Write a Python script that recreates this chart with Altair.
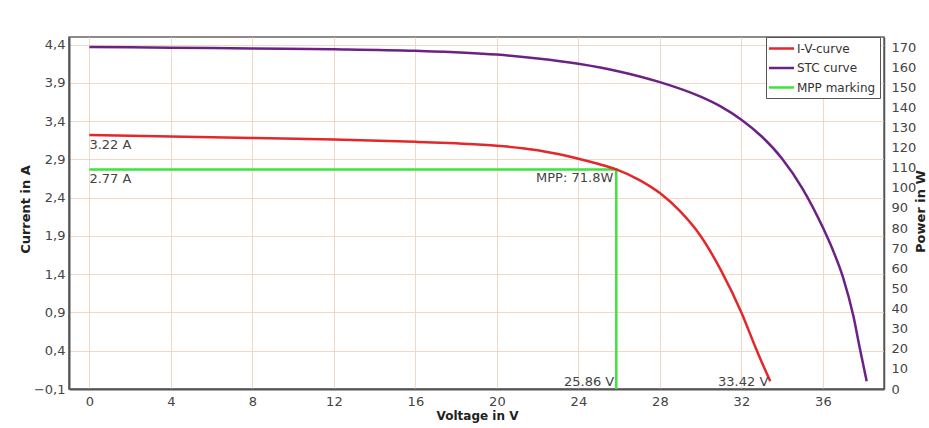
import altair as alt
import pandas as pd

# ---- data ----
iv_voltage = [0, 4, 8, 12, 16, 18, 20, 22, 23, 24, 25, 25.86, 27, 28, 29, 30, 31, 32, 32.7, 33.1, 33.42]
iv_current = [3.22, 3.20, 3.18, 3.16, 3.13, 3.11, 3.08, 3.02, 2.97, 2.91, 2.84, 2.77, 2.63, 2.46, 2.22, 1.90, 1.45, 0.90, 0.44, 0.19, 0.0]

stc_voltage = [0, 4, 8, 12, 16, 20, 22, 24, 26, 28, 30, 31, 32, 33, 34, 35, 36, 36.5, 37, 37.5, 37.8, 38.15]
stc_current = [4.37, 4.36, 4.35, 4.34, 4.32, 4.27, 4.22, 4.15, 4.05, 3.91, 3.72, 3.59, 3.42, 3.20, 2.91, 2.52, 2.01, 1.71, 1.35, 0.85, 0.45, 0.0]

mpp_voltage = [0, 25.86, 25.86]
mpp_current = [2.77, 2.77, -0.1]

series_names = ["I-V-curve", "STC curve", "MPP marking"]
series_colors = ["#e3272b", "#6b2284", "#3ee43e"]

label_texts = ["3.22 A", "2.77 A", "MPP: 71.8W", "25.86 V", "33.42 V"]
label_voltage = [0, 0, 25.86, 25.86, 33.42]
label_current = [3.22, 2.77, 2.77, 0, 0]
label_group = ["left", "left", "upper", "bottom", "bottom"]

x_ticks = [0, 4, 8, 12, 16, 20, 24, 28, 32, 36]
y_ticks = [-0.1, 0.4, 0.9, 1.4, 1.9, 2.4, 2.9, 3.4, 3.9, 4.4]
x_domain = [-1, 39]
y_domain = [-0.1, 4.5]
power_ticks = [0, 10, 20, 30, 40, 50, 60, 70, 80, 90, 100, 110, 120, 130, 140, 150, 160, 170]
power_domain = [0, 175]

# ---- tables ----
curves = pd.DataFrame({
    "voltage": iv_voltage + stc_voltage,
    "current": iv_current + stc_current,
    "series": [series_names[0]] * len(iv_voltage) + [series_names[1]] * len(stc_voltage),
    "idx": list(range(len(iv_voltage))) + list(range(len(stc_voltage))),
})
mpp = pd.DataFrame({
    "voltage": mpp_voltage,
    "current": mpp_current,
    "series": [series_names[2]] * len(mpp_voltage),
    "idx": list(range(len(mpp_voltage))),
})
labels = pd.DataFrame({
    "voltage": label_voltage,
    "current": label_current,
    "text": label_texts,
    "group": label_group,
})
power = pd.DataFrame({"power": power_domain})

FONT = "DejaVu Sans"

x_enc = alt.X("voltage:Q",
              scale=alt.Scale(domain=x_domain, nice=False, zero=False),
              axis=alt.Axis(values=x_ticks, tickCount=len(x_ticks), title="Voltage in V", grid=True,
                            labelPadding=6, titleFontSize=12, labelOverlap=False,
                            titleX=408, titleY=26, titleBaseline="middle",
                            domainWidth=2))
y_enc = alt.Y("current:Q",
              scale=alt.Scale(domain=y_domain, nice=False, zero=False),
              axis=alt.Axis(values=y_ticks, tickCount=len(y_ticks), title="Current in A", grid=True,
                            labelExpr="replace(format(datum.value, '.1f'), '.', ',')",
                            labelPadding=4, titleFontSize=13, labelOverlap=False,
                            titleX=-44, titleY=172, titleAngle=270,
                            titleAlign="center", titleBaseline="middle",
                            domainWidth=2))

color_scale = alt.Scale(domain=series_names, range=series_colors)
legend = alt.Legend(orient="none", legendX=697, legendY=0, title=None,
                    symbolType="M-2,0H2", symbolSize=156, symbolStrokeWidth=2.5,
                    symbolOffset=4, labelOffset=8,
                    labelFont=FONT, labelFontSize=12, labelColor="#333",
                    strokeColor="#555", fillColor="white", padding=4,
                    rowPadding=5.5)

curve_layer = alt.Chart(curves).mark_line(strokeWidth=2.5, interpolate="monotone").encode(
    x=x_enc, y=y_enc,
    color=alt.Color("series:N", scale=color_scale, legend=legend),
    order="idx:Q",
)
mpp_layer = alt.Chart(mpp).mark_line(strokeWidth=2.5).encode(
    x="voltage:Q", y="current:Q",
    color=alt.Color("series:N", scale=color_scale, legend=legend),
    order="idx:Q",
)

txt_style = dict(font=FONT, fontSize=13, color="#444", baseline="middle")
text_left = alt.Chart(labels).transform_filter(alt.datum.group == "left").mark_text(
    align="left", dy=10, **txt_style).encode(x="voltage:Q", y="current:Q", text="text:N")
text_upper = alt.Chart(labels).transform_filter(alt.datum.group == "upper").mark_text(
    align="right", dx=-3, dy=9, **txt_style).encode(x="voltage:Q", y="current:Q", text="text:N")
text_bottom = alt.Chart(labels).transform_filter(alt.datum.group == "bottom").mark_text(
    align="right", dx=-2, dy=1, **txt_style).encode(x="voltage:Q", y="current:Q", text="text:N")

current_group = alt.layer(mpp_layer, curve_layer, text_left, text_upper, text_bottom)

power_layer = alt.Chart(power).mark_point(opacity=0).encode(
    y=alt.Y("power:Q",
            scale=alt.Scale(domain=power_domain, nice=False, zero=False),
            axis=alt.Axis(orient="right", values=power_ticks, tickCount=len(power_ticks),
                          title="Power in W", grid=False,
                          labelPadding=7, titleFontSize=13, labelOverlap=False,
                          titleX=36, titleY=174, titleAngle=270,
                          titleAlign="center", titleBaseline="middle",
                          domainWidth=1.5))
)

chart = alt.layer(current_group, power_layer).resolve_scale(y="independent").properties(
    width=815, height=352,
    autosize=alt.AutoSizeParams(type="none"),
    padding={"left": 69, "top": 37, "right": 45, "bottom": 39},
    background="white",
).configure_axis(
    labelFont=FONT, labelFontSize=13, labelColor="#444",
    titleFont=FONT, titleFontWeight="bold", titleColor="#222",
    domainColor="#555", ticks=False, gridColor="#f1d9c7", gridWidth=1,
).configure_view(stroke="#666", strokeWidth=1.5)

chart.save("out.html", embed_options={"renderer": "svg", "actions": False})
